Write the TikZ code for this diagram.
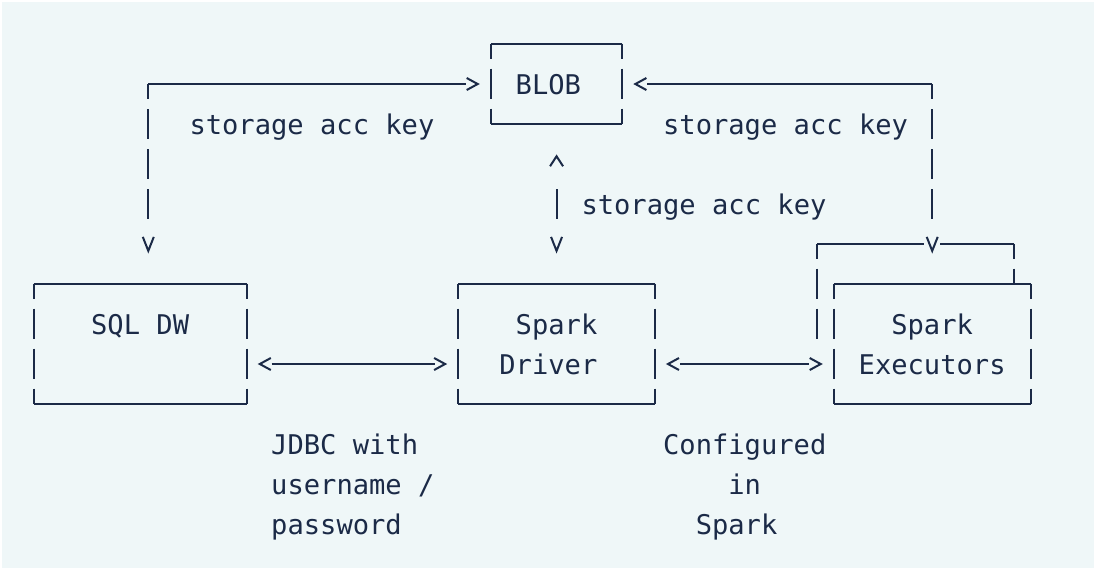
\documentclass[tikz,border=0pt]{standalone}
\usepackage{fontspec}
\setmonofont{DejaVu Sans Mono}
\usetikzlibrary{arrows.meta}

\definecolor{inkblue}{HTML}{1B2A47}
\definecolor{paleaqua}{HTML}{EFF7F8}

\newcommand{\mono}{\ttfamily\fontsize{13.56pt}{20pt}\selectfont}
\newcommand{\rowstrut}{\rule[-5pt]{0pt}{20pt}}
\newcommand{\asciiframe}[1]{%
  \draw[hline] (#1.north west) -- (#1.north east);
  \draw[hline] (#1.south west) -- (#1.south east);
  \draw[vline] (#1.north west) -- (#1.south west);
  \draw[vline] (#1.north east) -- (#1.south east);}

\tikzset{
  ink/.style={draw=inkblue, line width=1pt},
  hline/.style={ink},
  vline/.style={ink, dash pattern=on 15pt off 5pt, dash phase=7.5pt},
  tipsonly/.style={draw=paleaqua, line width=1pt},
  box/.style={inner sep=0pt, text=inkblue, font=\mono, align=center},
  lbl/.style={inner sep=0pt, text=inkblue, font=\mono, align=left, anchor=north west},
  gt/.tip={Straight Barb[length=5.5pt,width=6pt,color=inkblue]},
  vhead/.tip={Straight Barb[length=7pt,width=5.5pt,color=inkblue]},
  caret/.tip={Straight Barb[length=5pt,width=6.5pt,color=inkblue]},
}

\begin{document}
\begin{tikzpicture}[x=0.5pt,y=-0.5pt]
    \useasboundingbox (0,0) rectangle (1096,570);
    \fill[paleaqua] (2,2) rectangle (1094,568);

    % boxes
    \node[box, minimum width=65.35pt, minimum height=40pt] (blob) at (556.55,84) {\rowstrut BLOB\phantom{B}};
    \node[box, minimum width=106.15pt, minimum height=60pt] (sql) at (140.15,344) {\rowstrut SQL DW\\\rowstrut};
    \node[box, align=right, minimum width=97.95pt, minimum height=60pt] (drv) at (556.55,344) {\rowstrut Spark\phantom{x}\\\rowstrut Driver\phantom{x}};
    \node[box, minimum width=98pt, minimum height=47.5pt] (back) at (915.8,291.5) {};
    \node[box, minimum width=97.95pt, minimum height=60pt] (exe) at (932.15,344) {\rowstrut Spark\\\rowstrut Executors};
    \coordinate (lc) at (148.3,84);
    \coordinate (rc) at (932.2,84);

    % arrow heads first (path in background colour)
    \draw[tipsonly,-gt,shorten >=5.5pt] (lc) -- (blob.west);
    \draw[tipsonly,-vhead,shorten >=15pt] (lc) -- (lc |- sql.north);
    \draw[tipsonly,-gt,shorten >=5.5pt] (rc) -- (blob.east);
    \draw[tipsonly,-vhead,shorten >=-5pt] (rc) -- (rc |- back.north);
    \draw[tipsonly,caret-vhead,shorten <=15pt,shorten >=15pt] (blob.south) -- (drv.north);
    \draw[tipsonly,gt-gt,shorten <=5.5pt,shorten >=5.5pt] ([yshift=-10pt]sql.east) -- ([yshift=-10pt]drv.west);
    \draw[tipsonly,gt-gt,shorten <=5.5pt,shorten >=5.5pt] ([yshift=-10pt]drv.east) -- ([yshift=-10pt]exe.west);

    \asciiframe{blob}
    \asciiframe{sql}
    \asciiframe{drv}
    \asciiframe{exe}

    % executor stack behind
    \draw[hline] (back.north west) -- ([xshift=-4pt]rc |- back.north);
    \draw[hline] ([xshift=4pt]rc |- back.north) -- (back.north east);
    \draw[vline] (back.north west) -- (back.south west);
    \draw[vline] (back.north east) -- (back.east |- exe.north);

    % storage keys
    \draw[hline,shorten >=12.25pt] (lc) -- (blob.west);
    \draw[vline,shorten >=32.5pt] (lc) -- (lc |- sql.north);
    \draw[hline,shorten >=12.35pt] (rc) -- (blob.east);
    \draw[vline,shorten >=12.5pt] (rc) -- (rc |- back.north);
    \draw[ink,shorten <=32.5pt,shorten >=32.5pt] (blob.south) -- (drv.north);

    % links
    \draw[ink,shorten <=12.5pt,shorten >=11.5pt] ([yshift=-10pt]sql.east) -- ([yshift=-10pt]drv.west);
    \draw[ink,shorten <=12.75pt,shorten >=12.35pt] ([yshift=-10pt]drv.east) -- ([yshift=-10pt]exe.west);

    % labels
    \node[lbl] (keyleft) at (189.1,104) {\rowstrut storage acc key};
    \node[lbl] (keyright) at (662.7,104) {\rowstrut storage acc key};
    \node[lbl] (keymid) at (581.1,184) {\rowstrut storage acc key};
    \node[lbl] (jdbc) at (270.8,424) {\rowstrut JDBC with\\\rowstrut username /\\\rowstrut password};
    \node[lbl] (conf) at (662.7,424) {\rowstrut Configured\\\rowstrut\phantom{Conf}in\\\rowstrut\phantom{Co}Spark};
\end{tikzpicture}
\end{document}
